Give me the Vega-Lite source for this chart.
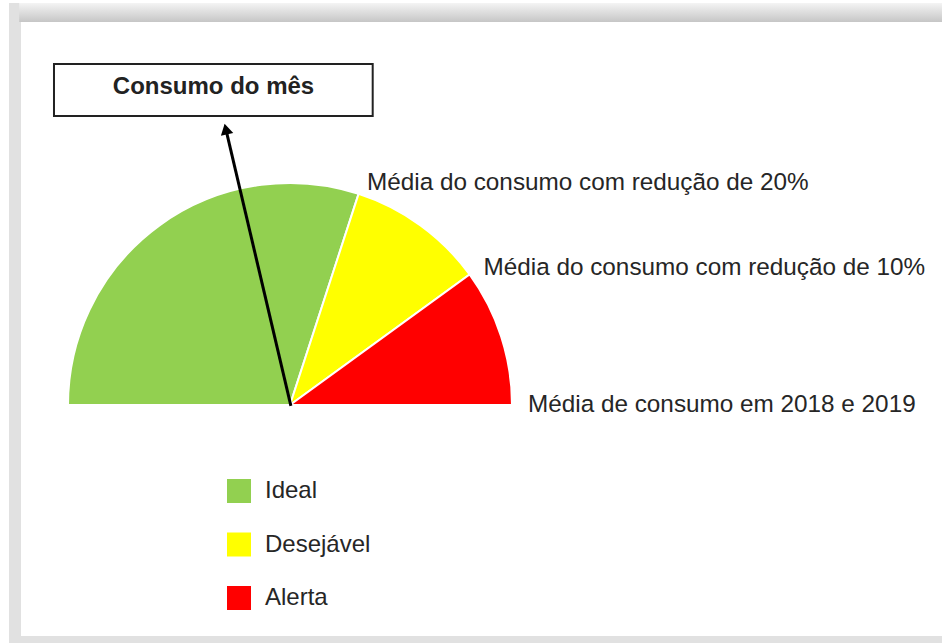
{
  "$schema": "https://vega.github.io/schema/vega-lite/v6.json",
  "width": 942,
  "height": 643,
  "autosize": {"type": "none"},
  "padding": 0,
  "background": "white",
  "config": {"view": {"stroke": null}},
  "datasets": {
    "faixas": [
      {"faixa": "Ideal", "inicio": 0, "fim": 60},
      {"faixa": "Desejável", "inicio": 60, "fim": 80},
      {"faixa": "Alerta", "inicio": 80, "fim": 100}
    ],
    "limites": [
      {"rotulo": "Média do consumo com redução de 20%", "limite": 60},
      {"rotulo": "Média do consumo com redução de 10%", "limite": 80},
      {"rotulo": "Média de consumo em 2018 e 2019", "limite": 100}
    ],
    "ponteiro": [
      {"rotulo": "Consumo do mês", "consumo": 42.7}
    ]
  },
  "layer": [
    {
      "data": {"values": [{}]},
      "mark": {"type": "rect", "fill": "#e1e1e1"},
      "encoding": {
        "x": {"datum": -126.58, "type": "quantitative", "scale": {"domain": [-130.63, 293.69], "nice": false, "zero": false}, "axis": null},
        "x2": {"datum": 293.69},
        "y": {"datum": 181.08, "type": "quantitative", "scale": {"domain": [-107.21, 182.43], "nice": false, "zero": false}, "axis": null},
        "y2": {"datum": -107.21}
      }
    },
    {
      "data": {"values": [{}]},
      "mark": {"type": "rect", "fill": {"gradient": "linear", "x1": 0, "y1": 0, "x2": 0, "y2": 1, "stops": [{"offset": 0, "color": "#f4f4f4"}, {"offset": 1, "color": "#c6c6c6"}]}},
      "encoding": {
        "x": {"datum": -122.0, "type": "quantitative", "scale": {"domain": [-130.63, 293.69], "nice": false, "zero": false}, "axis": null},
        "x2": {"datum": 293.69},
        "y": {"datum": 181.08, "type": "quantitative", "scale": {"domain": [-107.21, 182.43], "nice": false, "zero": false}, "axis": null},
        "y2": {"datum": 172.52}
      }
    },
    {
      "data": {"values": [{}]},
      "mark": {"type": "rect", "fill": "white"},
      "encoding": {
        "x": {"datum": -121.17, "type": "quantitative", "scale": {"domain": [-130.63, 293.69], "nice": false, "zero": false}, "axis": null},
        "x2": {"datum": 293.69},
        "y": {"datum": 172.52, "type": "quantitative", "scale": {"domain": [-107.21, 182.43], "nice": false, "zero": false}, "axis": null},
        "y2": {"datum": -104.05}
      }
    },
    {
      "data": {"name": "faixas"},
      "mark": {"type": "arc", "outerRadius": 222, "stroke": "white", "strokeWidth": 2},
      "encoding": {
        "x": {"datum": 0, "type": "quantitative", "scale": {"domain": [-130.63, 293.69], "nice": false, "zero": false}, "axis": null},
        "y": {"datum": 0, "type": "quantitative", "scale": {"domain": [-107.21, 182.43], "nice": false, "zero": false}, "axis": null},
        "theta": {"field": "inicio", "type": "quantitative", "scale": {"domain": [0, 100], "range": [-1.5708, 1.5708]}},
        "theta2": {"field": "fim"},
        "color": {
          "field": "faixa",
          "type": "nominal",
          "scale": {"domain": ["Ideal", "Desejável", "Alerta"], "range": ["#92D050", "#FFFF00", "#FF0000"]},
          "legend": {
            "orient": "none",
            "legendX": 227,
            "legendY": 479,
            "title": null,
            "padding": 0,
            "symbolType": "square",
            "symbolSize": 576,
            "symbolStrokeWidth": 0,
            "symbolOpacity": 1,
            "labelFont": "Liberation Sans",
            "labelFontSize": 24,
            "labelColor": "#262626",
            "labelOffset": 14,
            "rowPadding": 29.5
          }
        }
      }
    },
    {
      "data": {"name": "ponteiro"},
      "mark": {"type": "rule", "color": "black", "strokeWidth": 3},
      "encoding": {
        "x": {"datum": 0.4, "type": "quantitative", "scale": {"domain": [-130.63, 293.69], "nice": false, "zero": false}, "axis": null},
        "y": {"datum": -0.4, "type": "quantitative", "scale": {"domain": [-107.21, 182.43], "nice": false, "zero": false}, "axis": null},
        "x2": {"datum": -28.9},
        "y2": {"datum": 124.3}
      }
    },
    {
      "data": {"name": "ponteiro"},
      "mark": {"type": "point", "shape": "triangle-up", "size": 160, "angle": -13.1, "filled": true, "color": "black", "opacity": 1},
      "encoding": {
        "x": {"datum": -28.9, "type": "quantitative", "scale": {"domain": [-130.63, 293.69], "nice": false, "zero": false}, "axis": null},
        "y": {"datum": 124.3, "type": "quantitative", "scale": {"domain": [-107.21, 182.43], "nice": false, "zero": false}, "axis": null}
      }
    },
    {
      "data": {"name": "ponteiro"},
      "mark": {"type": "rect", "fill": "white", "stroke": "#222222", "strokeWidth": 2},
      "encoding": {
        "x": {"datum": -106.31, "type": "quantitative", "scale": {"domain": [-130.63, 293.69], "nice": false, "zero": false}, "axis": null},
        "x2": {"datum": 37.25},
        "y": {"datum": 153.6, "type": "quantitative", "scale": {"domain": [-107.21, 182.43], "nice": false, "zero": false}, "axis": null},
        "y2": {"datum": 130.18}
      }
    },
    {
      "data": {"name": "ponteiro"},
      "mark": {"type": "text", "font": "Liberation Sans", "fontSize": 24, "fontWeight": "bold", "color": "#222222", "align": "center", "baseline": "alphabetic"},
      "encoding": {
        "x": {"datum": -34.46, "type": "quantitative", "scale": {"domain": [-130.63, 293.69], "nice": false, "zero": false}, "axis": null},
        "y": {"datum": 139.95, "type": "quantitative", "scale": {"domain": [-107.21, 182.43], "nice": false, "zero": false}, "axis": null},
        "text": {"field": "rotulo"}
      }
    },
    {
      "data": {"name": "limites"},
      "mark": {"type": "text", "font": "Liberation Sans", "fontSize": 24.3, "color": "#262626", "align": "left", "baseline": "middle", "radius": 233, "dx": 5},
      "encoding": {
        "x": {"datum": 0, "type": "quantitative", "scale": {"domain": [-130.63, 293.69], "nice": false, "zero": false}, "axis": null},
        "y": {"datum": 0, "type": "quantitative", "scale": {"domain": [-107.21, 182.43], "nice": false, "zero": false}, "axis": null},
        "theta": {"field": "limite", "type": "quantitative", "scale": {"domain": [0, 100], "range": [-1.5708, 1.5708]}},
        "text": {"field": "rotulo"}
      }
    }
  ]
}
